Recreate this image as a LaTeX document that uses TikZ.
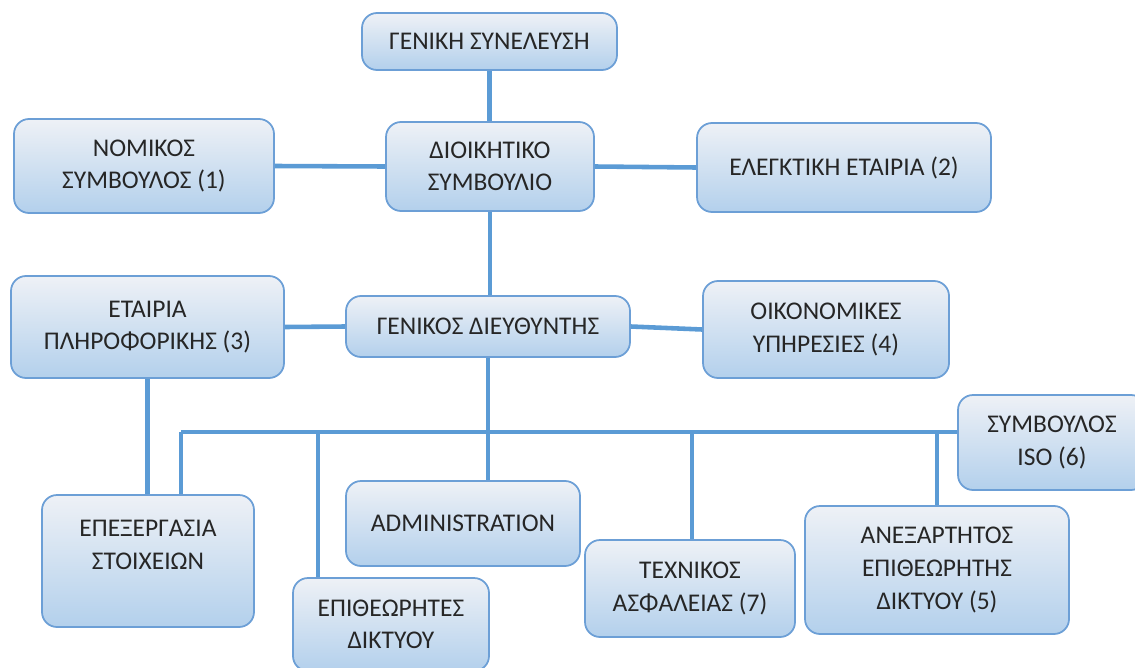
\documentclass[tikz,border=0pt]{standalone}
\usepackage{fontspec}
\setmainfont{Carlito}

\definecolor{linkblue}{HTML}{5B9BD5}
\definecolor{boxedge}{HTML}{6C9FD6}
\definecolor{boxtop}{HTML}{EEF1F6}
\definecolor{boxbot}{HTML}{B3D0EC}

\tikzset{
  unit/.style 2 args={draw=boxedge, line width=1pt, rounded corners=0.3cm,
    top color=boxtop, bottom color=boxbot, align=center, inner sep=2pt,
    text=black!85, font=\fontsize{14.5}{18.5}\selectfont,
    minimum width=#1cm, minimum height=#2cm},
  link/.style={draw=linkblue, line width=2.6pt}
}

\begin{document}
\begin{tikzpicture}
    \useasboundingbox (0,0) rectangle (22.7,-13.34);
    \clip (0,0) rectangle (22.7,-13.34);

    \node[unit={5.10}{1.14}] (gs) at (9.79,-0.83) {ΓΕΝΙΚΗ ΣΥΝΕΛΕΥΣΗ};
    \node[unit={5.20}{1.88}] (nomikos) at (2.88,-3.32) {ΝΟΜΙΚΟΣ\\ΣΥΜΒΟΥΛΟΣ (1)};
    \node[unit={4.16}{1.78}] (ds) at (9.80,-3.33) {ΔΙΟΙΚΗΤΙΚΟ\\ΣΥΜΒΟΥΛΙΟ};
    \node[unit={5.88}{1.78}] (elegktiki) at (16.88,-3.35) {ΕΛΕΓΚΤΙΚΗ ΕΤΑΙΡΙΑ (2)};
    \node[unit={5.46}{2.04}] (pliroforiki) at (2.95,-6.54) {ΕΤΑΙΡΙΑ\\ΠΛΗΡΟΦΟΡΙΚΗΣ (3)};
    \node[unit={5.68}{1.22}] (gd) at (9.76,-6.53) {ΓΕΝΙΚΟΣ ΔΙΕΥΘΥΝΤΗΣ};
    \node[unit={4.92}{1.94}] (oikonomikes) at (16.52,-6.59) {ΟΙΚΟΝΟΜΙΚΕΣ\\ΥΠΗΡΕΣΙΕΣ (4)};
    \node[unit={3.76}{1.90}] (iso) at (21.04,-8.85) {ΣΥΜΒΟΥΛΟΣ\\ISO (6)};
    \node[unit={4.24}{2.64}] (epexergasia) at (2.96,-11.22) {ΕΠΕΞΕΡΓΑΣΙΑ\\ΣΤΟΙΧΕΙΩΝ\\\mbox{}};
    \node[unit={4.68}{1.70}] (admin) at (9.26,-10.47) {ADMINISTRATION};
    \node[unit={3.92}{1.86}] (epitheorites) at (7.82,-12.49) {ΕΠΙΘΕΩΡΗΤΕΣ\\ΔΙΚΤΥΟΥ};
    \node[unit={4.20}{1.94}] (texnikos) at (13.80,-11.77) {ΤΕΧΝΙΚΟΣ\\ΑΣΦΑΛΕΙΑΣ (7)};
    \node[unit={5.28}{2.56}] (anexartitos) at (18.74,-11.40) {ΑΝΕΞΑΡΤΗΤΟΣ\\ΕΠΙΘΕΩΡΗΤΗΣ\\ΔΙΚΤΥΟΥ (5)};

    \coordinate (busL) at (3.62,-8.64);
    \coordinate (busA) at (6.36,-8.64);
    \coordinate (busB) at (13.84,-8.64);
    \coordinate (busC) at (18.74,-8.64);

    \draw[link] (gs.south) -- (gs.south |- ds.north);
    \draw[link] (ds.south) -- (ds.south |- gd.north);
    \draw[link] (nomikos.east) -- (ds.west);
    \draw[link] (ds.east) -- (elegktiki.west);
    \draw[link] (pliroforiki.east) -- (gd.west);
    \draw[link] (gd.east) -- (oikonomikes.west);
    \draw[link] (pliroforiki.south) -- (pliroforiki.south |- epexergasia.north);
    \draw[link] (gd.south) -- (gd.south |- admin.north);
    \draw[link] (busL) -- (busL -| iso.west);
    \draw[link] (busL) -- (busL |- epexergasia.north);
    \draw[link] (busA) -- (busA |- epitheorites.north);
    \draw[link] (busB) -- (busB |- texnikos.north);
    \draw[link] (busC) -- (busC |- anexartitos.north);
\end{tikzpicture}
\end{document}
